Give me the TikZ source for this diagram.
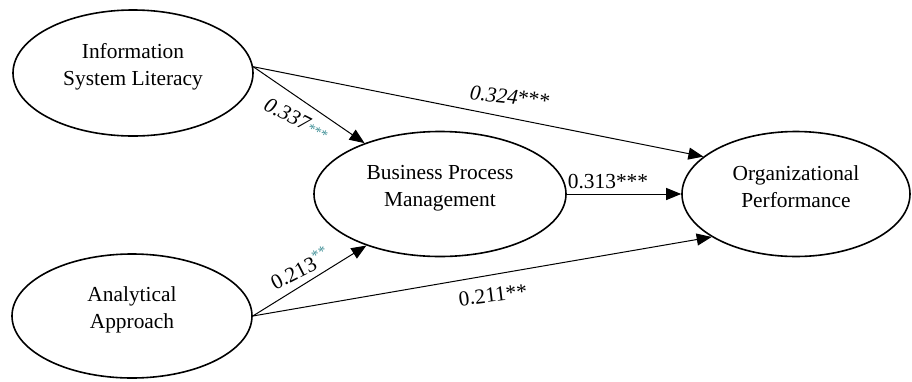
\documentclass[tikz,border=0pt]{standalone}
\usepackage{fontspec}
\setmainfont{Liberation Serif}
\usetikzlibrary{shapes.geometric,arrows.meta}
\definecolor{sigteal}{HTML}{3F8F96}
\begin{document}
\begin{tikzpicture}[x=0.5pt,y=-0.5pt,
  latent/.style={draw, ellipse, line width=0.8pt, inner sep=0pt},
  vname/.style={align=center, font=\fontsize{10.7}{13.5}\selectfont, inner sep=0pt},
  pathar/.style={-{Triangle[length=7.5pt,width=6pt]}, line width=0.5pt},
  coef/.style={font=\fontsize{10.7}{13}\selectfont, inner sep=1pt}]
\useasboundingbox (0,0) rectangle (912,381);
\node[latent, minimum width=120pt, minimum height=63pt] (isl) at (133,73) {};
\node[vname] (islt) at (133,67) {Information\\System Literacy};
\node[latent, minimum width=120pt, minimum height=62pt] (aa) at (132,316) {};
\node[vname] (aat) at (132,310) {Analytical\\Approach};
\node[latent, minimum width=126pt, minimum height=62.5pt] (bpm) at (440,194) {};
\node[vname] (bpmt) at (440,188) {Business Process\\Management};
\node[latent, minimum width=114pt, minimum height=62.5pt] (op) at (796,194) {};
\node[vname] (opt) at (796,187) {Organizational\\Performance};

\draw[pathar] (isl.3) -- (bpm.146);
\draw[pathar] (isl.3) -- (op.158);
\draw[pathar] (aa.east) -- (bpm.215);
\draw[pathar] (aa.east) -- (op.207);
\draw[pathar] (bpm.east) -- (op.west);

\node[coef, rotate=-6] (l1) at (510,97) {\textit{0.324}***};
\node[coef, rotate=-27] (l2) at (297,119) {\textit{0.337}\textcolor{sigteal}{\scriptsize ***}};
\node[coef] (l3) at (608,182) {0.313***};
\node[coef, rotate=27] (l4) at (300,268) {0.213\textsuperscript{\textcolor{sigteal}{**}}};
\node[coef, rotate=7] (l5) at (493,295) {0.211**};
\end{tikzpicture}
\end{document}
